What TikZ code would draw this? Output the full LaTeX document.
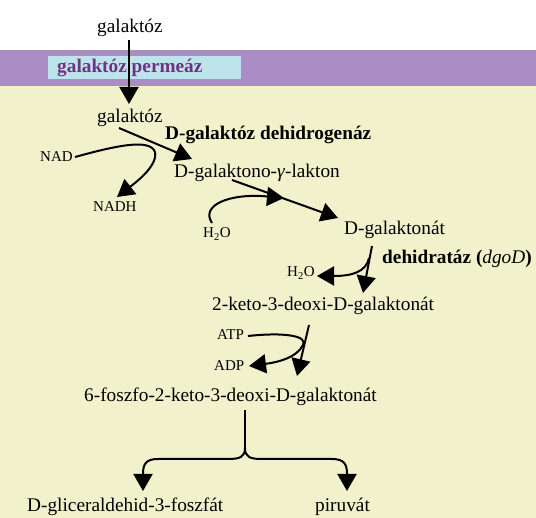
\documentclass[tikz,border=0pt]{standalone}
\usepackage{fontspec}
\setmainfont{Liberation Serif}
\usetikzlibrary{arrows.meta}
\definecolor{bandc}{RGB}{169,141,196}
\definecolor{boxc}{RGB}{190,228,235}
\definecolor{creamc}{RGB}{241,241,204}
\definecolor{permc}{RGB}{112,50,130}
\begin{document}
\begin{tikzpicture}[x=1pt,y=-1pt,
  txt/.style={inner sep=0pt,anchor=base west,font=\fontsize{19.3}{22}\selectfont},
  sm/.style={inner sep=0pt,anchor=base west,font=\fontsize{15}{18}\selectfont},
  arr/.style={line width=2pt,-{Triangle[length=17pt,width=19pt]}},
  ln/.style={line width=2pt}]
\useasboundingbox (0,0) rectangle (536,518);
% backgrounds
\fill[creamc] (0,86) rectangle (536,518);
\fill[bandc] (0,50) rectangle (536,86);
\fill[boxc] (48,56) rectangle (241,79);
% texts
\node[txt] (g1) at (97,33) {galaktóz};
\node[txt,font=\fontsize{19.3}{22}\selectfont\bfseries,text=permc] (perm) at (57,73) {galaktóz permeáz};
\node[txt] (g2) at (97,123) {galaktóz};
\node[txt,font=\fontsize{19.3}{22}\selectfont\bfseries] (dh) at (165,140) {D-galaktóz dehidrogenáz};
\node[sm] (nad) at (40,162) {NAD};
\node[sm] (nadh) at (93,212) {NADH};
\node[txt] (lak) at (174,178) {D-galaktono-\textit{γ}-lakton};
\node[sm] (w1) at (203,238) {H\textsubscript{2}O};
\node[txt] (gat) at (344,235) {D-galaktonát};
\node[sm] (w2) at (287,277) {H\textsubscript{2}O};
\node[txt] (dhr) at (382,264) {\textbf{dehidratáz (}\textit{dgoD}\textbf{)}};
\node[txt] (kdg) at (212,311) {2-keto-3-deoxi-D-galaktonát};
\node[sm] (atp) at (217,340) {ATP};
\node[sm] (adp) at (214,371) {ADP};
\node[txt] (pkdg) at (84,402) {6-foszfo-2-keto-3-deoxi-D-galaktonát};
\node[txt] (gap) at (27,512) {D-gliceraldehid-3-foszfát};
\node[txt] (pyr) at (315,512) {piruvát};
% coordinates
\coordinate (a1s) at (129,40);  \coordinate (a1e) at (129,104);
\coordinate (a2s) at (119,128); \coordinate (a2e) at (192,159);
\coordinate (c1s) at (75,157);  \coordinate (c1m) at (155,152); \coordinate (c1e) at (117,197);
\coordinate (a3s) at (232,180); \coordinate (a3e) at (338,218);
\coordinate (c2s) at (212,223); \coordinate (c2e) at (284,198);
\coordinate (a4s) at (372,246); \coordinate (a4e) at (363,293);
\coordinate (c3s) at (369,258); \coordinate (c3e) at (317,276);
\coordinate (a5s) at (309,325); \coordinate (a5e) at (297,376);
\coordinate (c4s) at (248,336); \coordinate (c4m) at (303,345); \coordinate (c4e) at (249,366);
\coordinate (bs) at (245,410); \coordinate (bc) at (245,448);
\coordinate (bl) at (143,491); \coordinate (br) at (347,491);
% arrows
\draw[arr] (a1s) -- (a1e);
\draw[arr] (a2s) -- (a2e);
\draw[arr] (c1s) .. controls (115,146) and (150,138) .. (c1m) .. controls (158,166) and (135,183) .. (c1e);
\draw[arr] (a3s) -- (a3e);
\draw[arr] (c2s) .. controls (200,205) and (230,193) .. (c2e);
\draw[arr] (a4s) -- (a4e);
\draw[arr] (c3s) .. controls (366,272) and (352,276) .. (c3e);
\draw[arr] (a5s) -- (a5e);
\draw[arr] (c4s) .. controls (285,332) and (308,336) .. (c4m) .. controls (297,357) and (280,362) .. (c4e);
\draw[ln] (bs) -- (bc);
\draw[arr] (bc) .. controls (245,457) and (240,459) .. (228,459) -- (158,459) .. controls (146,459) and (143,464) .. (143,474) -- (bl);
\draw[arr] (bc) .. controls (245,457) and (250,459) .. (262,459) -- (332,459) .. controls (344,459) and (347,464) .. (347,474) -- (br);
\end{tikzpicture}
\end{document}
